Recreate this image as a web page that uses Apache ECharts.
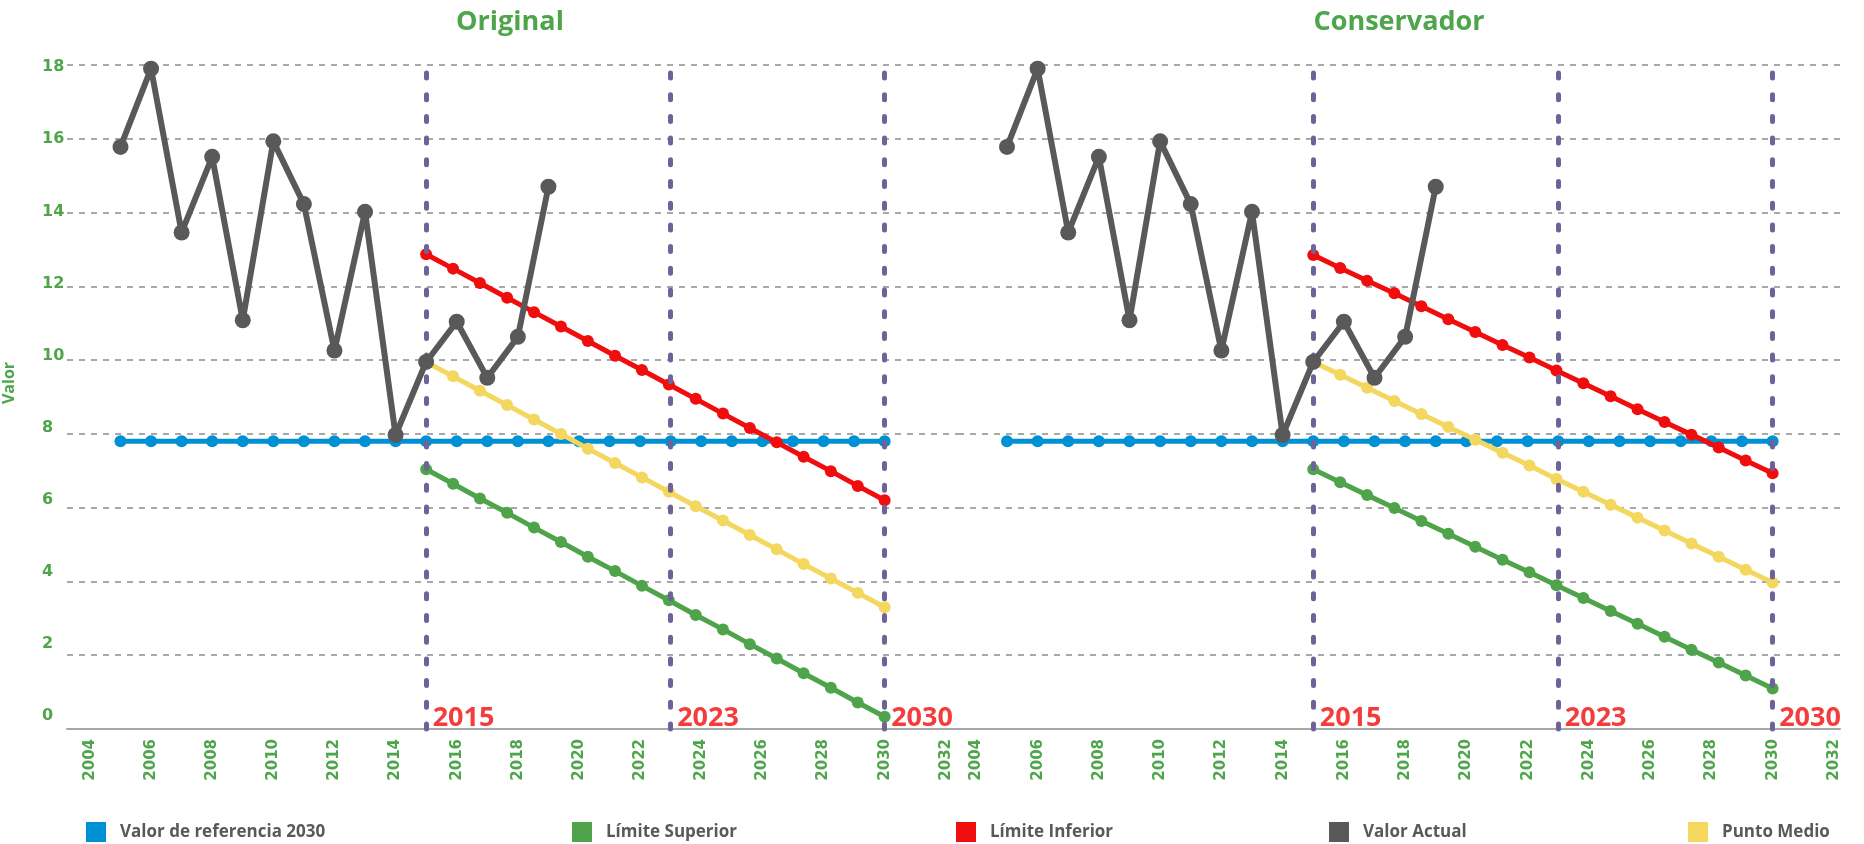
<!DOCTYPE html>
<html><head><meta charset="utf-8">
<script src="https://cdn.jsdelivr.net/npm/echarts@6/dist/echarts.min.js"></script>
<style>html,body{margin:0;padding:0;background:#fff}#c{width:1864px;height:844px}</style>
</head><body><div id="c"></div>
<script>
const panelTitles = ['Original', 'Conservador'];
const xTickLabels = [2004, 2006, 2008, 2010, 2012, 2014, 2016, 2018, 2020, 2022, 2024, 2026, 2028, 2030, 2032];
const yTickLabels = [0, 2, 4, 6, 8, 10, 12, 14, 16, 18];
const milestoneYears = [2015, 2023, 2030];
const seriesNames = ['Valor de referencia 2030', 'Límite Superior', 'Límite Inferior', 'Valor Actual', 'Punto Medio'];

const refYears = [2005, 2006, 2007, 2008, 2009, 2010, 2011, 2012, 2013, 2014, 2015, 2016, 2017, 2018, 2019, 2020, 2021, 2022, 2023, 2024, 2025, 2026, 2027, 2028, 2029, 2030];
const refValues = [7.8, 7.8, 7.8, 7.8, 7.8, 7.8, 7.8, 7.8, 7.8, 7.8, 7.8, 7.8, 7.8, 7.8, 7.8, 7.8, 7.8, 7.8, 7.8, 7.8, 7.8, 7.8, 7.8, 7.8, 7.8, 7.8];

const actualYears = [2005, 2006, 2007, 2008, 2009, 2010, 2011, 2012, 2013, 2014, 2015, 2016, 2017, 2018, 2019];
const actualValues = [15.78, 17.9, 13.46, 15.51, 11.08, 15.93, 14.23, 10.26, 14.02, 7.97, 9.95, 11.04, 9.52, 10.63, 14.7];

const projX = [2015, 2015.88, 2016.76, 2017.65, 2018.53, 2019.41, 2020.29, 2021.18, 2022.06, 2022.94, 2023.82, 2024.71, 2025.59, 2026.47, 2027.35, 2028.24, 2029.12, 2030];

const origLower = [12.87, 12.48, 12.09, 11.69, 11.30, 10.91, 10.52, 10.12, 9.73, 9.34, 8.95, 8.55, 8.16, 7.77, 7.38, 6.99, 6.59, 6.2];
const origMid   = [9.95, 9.56, 9.17, 8.78, 8.39, 8.0, 7.6, 7.21, 6.82, 6.43, 6.04, 5.65, 5.26, 4.87, 4.47, 4.08, 3.69, 3.3];
const origUpper = [7.04, 6.65, 6.25, 5.86, 5.46, 5.07, 4.67, 4.28, 3.88, 3.49, 3.09, 2.70, 2.30, 1.91, 1.51, 1.12, 0.72, 0.33];

const consLower = [12.85, 12.50, 12.15, 11.81, 11.46, 11.11, 10.76, 10.41, 10.07, 9.72, 9.37, 9.02, 8.67, 8.32, 7.98, 7.63, 7.28, 6.93];
const consMid   = [9.95, 9.60, 9.25, 8.89, 8.54, 8.19, 7.84, 7.49, 7.14, 6.78, 6.43, 6.08, 5.73, 5.38, 5.03, 4.67, 4.32, 3.97];
const consUpper = [7.04, 6.69, 6.34, 5.99, 5.64, 5.29, 4.94, 4.59, 4.25, 3.90, 3.55, 3.20, 2.85, 2.50, 2.15, 1.80, 1.45, 1.10];

const FONT = '"Open Sans", "Noto Sans", sans-serif';
const NUMFONT = '"DejaVu Sans", sans-serif';
const GREEN_TXT = '#4fa54b';
const C = { blue: '#0090d4', green: '#4fa44b', red: '#f00d0d', gray: '#595959', yellow: '#f3d75e', purple: '#6e6399', grid: '#a8a8a8' };
const colorByName = {
  'Valor de referencia 2030': C.blue, 'Límite Superior': C.green, 'Límite Inferior': C.red,
  'Valor Actual': C.gray, 'Punto Medio': C.yellow
};

function pairs(xs, ys) { return xs.map((x, i) => [x, ys[i]]); }
function lineSeries(name, xs, ys, color, symSize, width, z, xi, yi) {
  return {
    type: 'line', name, xAxisIndex: xi, yAxisIndex: yi, data: pairs(xs, ys), z,
    symbol: 'circle', symbolSize: symSize, showAllSymbol: true,
    lineStyle: { color, width }, itemStyle: { color },
    emphasis: { disabled: true }, silent: true, clip: false
  };
}
function panelSeries(xi, yi, upper, mid, lower) {
  return [
    {
      type: 'line', name: '_milestones', xAxisIndex: xi, yAxisIndex: yi, data: [], z: 1, silent: true,
      markLine: {
        symbol: 'none', silent: true, animation: false, label: { show: false },
        lineStyle: { color: C.purple, width: 5, type: [5, 16.7], cap: 'round' },
        data: milestoneYears.map(v => ({ xAxis: v }))
      }
    },
    lineSeries(seriesNames[0], refYears, refValues, C.blue, 12, 5, 2, xi, yi),
    lineSeries(seriesNames[1], projX, upper, C.green, 12, 5, 3, xi, yi),
    lineSeries(seriesNames[4], projX, mid, C.yellow, 12, 5, 3, xi, yi),
    lineSeries(seriesNames[2], projX, lower, C.red, 12, 5, 4, xi, yi),
    lineSeries(seriesNames[3], actualYears, actualValues, C.gray, 16, 6, 5, xi, yi),
    {
      type: 'scatter', name: '_years', xAxisIndex: xi, yAxisIndex: yi, z: 6, silent: true,
      symbolSize: 1, itemStyle: { color: 'rgba(0,0,0,0)' },
      data: milestoneYears.map(v => [v, 0]),
      label: {
        show: true, formatter: p => String(p.value[0]), position: [7, 3],
        align: 'left', verticalAlign: 'bottom', color: '#f00d0d',
        fontSize: 27, fontFamily: FONT, fontWeight: 'bold'
      }
    }
  ];
}

const xAxisCommon = {
  type: 'value',
  axisLine: { show: true, lineStyle: { color: '#a8a8a8', width: 2 } },
  axisTick: { show: false },
  splitLine: { show: false },
  axisLabel: {
    customValues: xTickLabels, rotate: 90, margin: 10,
    color: GREEN_TXT, fontSize: 15, fontWeight: 'bold', fontFamily: NUMFONT,
    formatter: v => String(v)
  }
};
const gridSplit = { show: true, lineStyle: { color: C.grid, width: 2, type: [6, 6] } };

const option = {
  animation: false,
  backgroundColor: '#fff',
  title: [
    { text: panelTitles[0], left: 505, top: 4, textAlign: 'center',
      textStyle: { color: GREEN_TXT, fontSize: 27, fontWeight: 'bold', fontFamily: FONT } },
    { text: panelTitles[1], left: 1394, top: 4, textAlign: 'center',
      textStyle: { color: GREEN_TXT, fontSize: 27, fontWeight: 'bold', fontFamily: FONT } }
  ],
  grid: [
    { left: 67, right: 906, top: 65, bottom: 115 },
    { left: 958, right: 24, top: 65, bottom: 115 }
  ],
  xAxis: [
    Object.assign({}, xAxisCommon, { gridIndex: 0, min: 2003.25, max: 2032.4 }),
    Object.assign({}, xAxisCommon, { gridIndex: 1, min: 2003.4, max: 2032.2 })
  ],
  yAxis: [
    { type: 'value', gridIndex: 0, position: 'left', min: 0, max: 18, interval: 2,
      axisLine: { show: false }, axisTick: { show: false }, axisLabel: { show: false },
      splitLine: gridSplit },
    { type: 'value', gridIndex: 0, position: 'left', offset: 0, min: -0.36, max: 18.06,
      axisLine: { show: false }, axisTick: { show: false }, splitLine: { show: false },
      name: 'Valor', nameLocation: 'middle', nameGap: 50,
      nameTextStyle: { color: GREEN_TXT, fontSize: 16, fontWeight: 'bold', fontFamily: FONT, padding: [0, 0, 0, 28] },
      axisLabel: { customValues: yTickLabels, align: 'left', margin: 25,
        color: GREEN_TXT, fontSize: 16, fontWeight: 'bold', fontFamily: NUMFONT } },
    { type: 'value', gridIndex: 1, position: 'left', min: 0, max: 18, interval: 2,
      axisLine: { show: false }, axisTick: { show: false }, axisLabel: { show: false },
      splitLine: gridSplit }
  ],
  legend: seriesNames.map((n, i) => ({
    data: [n], left: [81, 567, 951, 1324, 1683][i], top: 817,
    icon: 'rect', itemWidth: 20, itemHeight: 20, selectedMode: false,
    itemStyle: { color: colorByName[n] },
    textStyle: { color: '#595959', fontSize: 17, fontWeight: 'bold', fontFamily: FONT, padding: [0, 0, 0, 9] }
  })),
  series: [].concat(
    panelSeries(0, 0, origUpper, origMid, origLower),
    panelSeries(1, 2, consUpper, consMid, consLower)
  )
};

const chart = echarts.init(document.getElementById('c'), null, { renderer: 'canvas' });
chart.setOption(option);
</script>
</body></html>
